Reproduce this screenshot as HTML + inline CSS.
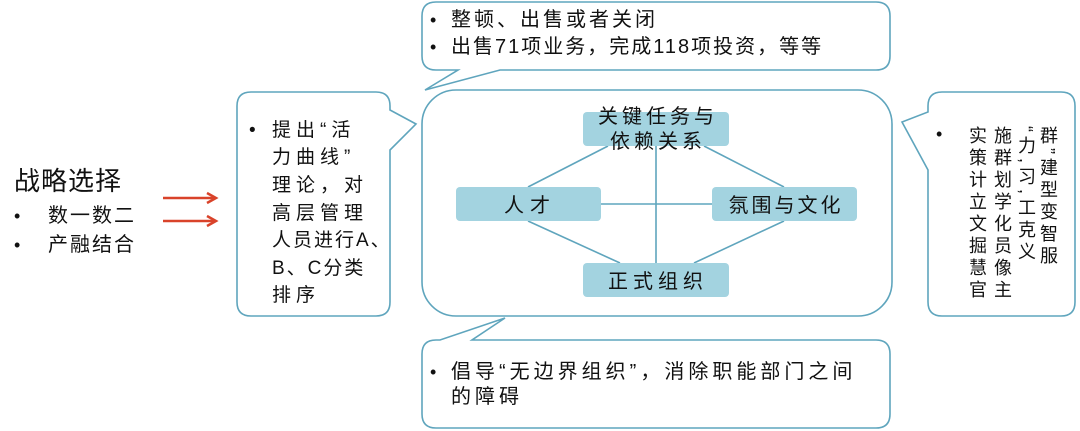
<!DOCTYPE html>
<html><head><meta charset="utf-8"><style>
html,body{margin:0;padding:0;background:#fff;}
svg{display:block;font-family:"Liberation Sans","Noto Sans CJK SC",sans-serif;}
</style></head><body>
<svg width="1080" height="431" viewBox="0 0 1080 431" xmlns="http://www.w3.org/2000/svg">
<g fill="#fff" stroke="#5fa5bd" stroke-width="1.6">
<path d="M436,2 H876 Q890,2 890,16 V56 Q890,70 876,70 H500 L425,90 L458,70 H436 Q422,70 422,56 V16 Q422,2 436,2 Z"/>
<path d="M251,92 H376 Q390,92 390,106 V110 L416,124 L390,150 V302 Q390,316 376,316 H251 Q237,316 237,302 V106 Q237,92 251,92 Z"/>
<path d="M942,92 H1061 Q1075,92 1075,106 V302 Q1075,316 1061,316 H942 Q928,316 928,302 V170 L902,122 L928,112 V106 Q928,92 942,92 Z"/>
<path d="M436,340 H440 L505,318 L472,340 H876 Q890,340 890,354 V414 Q890,428 876,428 H436 Q422,428 422,414 V354 Q422,340 436,340 Z"/>
<rect x="422" y="90" width="470" height="226" rx="34" ry="34"/>
</g>
<g stroke="#5fa5bd" stroke-width="1.6">
<line x1="656" y1="146" x2="656" y2="263"/>
<line x1="601" y1="204" x2="712" y2="204"/>
<line x1="608" y1="146" x2="528" y2="187"/>
<line x1="704" y1="146" x2="784" y2="187"/>
<line x1="528" y1="221" x2="620" y2="263"/>
<line x1="784" y1="221" x2="694" y2="263"/>
</g>
<g fill="#a3d3e0">
<rect x="583" y="112" width="146" height="34" rx="4"/>
<rect x="456" y="187" width="145" height="34" rx="4"/>
<rect x="712" y="187" width="145" height="34" rx="4"/>
<rect x="583" y="263" width="146" height="34" rx="4"/>
</g>
<g fill="#111" font-size="20" text-anchor="middle">
<text x="658" y="123" letter-spacing="4">关键任务与</text>
<text x="658" y="148" letter-spacing="4">依赖关系</text>
<text x="530" y="212" letter-spacing="6">人才</text>
<text x="786" y="212" letter-spacing="3">氛围与文化</text>
<text x="658" y="288" letter-spacing="5">正式组织</text>
</g>
<g fill="#111" font-size="20">
<text x="430" y="26" font-size="18">•</text><text x="451" y="26" letter-spacing="3">整顿、出售或者关闭</text>
<text x="430" y="53" font-size="18">•</text><text x="451" y="53" letter-spacing="2">出售71项业务，完成118项投资，等等</text>
</g>
<g fill="#111" font-size="19" letter-spacing="5">
<text x="249" y="136" letter-spacing="0">•</text>
<text x="272" y="136">提出“活</text>
<text x="272" y="163">力曲线”</text>
<text x="272" y="191">理论，对</text>
<text x="272" y="219">高层管理</text>
<text x="272" y="246" letter-spacing="2">人员进行A、</text>
<text x="272" y="274" letter-spacing="2">B、C分类</text>
<text x="272" y="301">排序</text>
</g>
<g fill="#111" font-size="20" letter-spacing="4">
<text x="430" y="378" letter-spacing="0" font-size="18">•</text>
<text x="451" y="378">倡导“无边界组织”，消除职能部门之间</text>
<text x="451" y="403">的障碍</text>
</g>
<g fill="#111" font-size="18">
<text x="936" y="140">•</text>
<text style="writing-mode:tb" x="1048" y="126" letter-spacing="4">群”建型变智服</text>
<text style="writing-mode:tb" x="1026" y="126" letter-spacing="4">“力,习,工克义</text>
<text style="writing-mode:tb" x="1002" y="126" letter-spacing="4">施群划学化员像主</text>
<text style="writing-mode:tb" x="977" y="126" letter-spacing="4">实策计立文掘慧官</text>
</g>
<g fill="#111">
<text x="14" y="190" font-size="26" letter-spacing="1">战略选择</text>
<text x="14" y="222" font-size="18">•</text>
<text x="48" y="222" font-size="20" letter-spacing="2">数一数二</text>
<text x="14" y="251" font-size="18">•</text>
<text x="48" y="251" font-size="20" letter-spacing="2">产融结合</text>
</g>
<g stroke="#d9432a" stroke-width="2.5" fill="none">
<line x1="163" y1="198" x2="215" y2="198"/>
<path d="M207,193 L216,198 L207,203"/>
<line x1="163" y1="221" x2="215" y2="221"/>
<path d="M207,216 L216,221 L207,226"/>
</g>
</svg>
</body></html>
